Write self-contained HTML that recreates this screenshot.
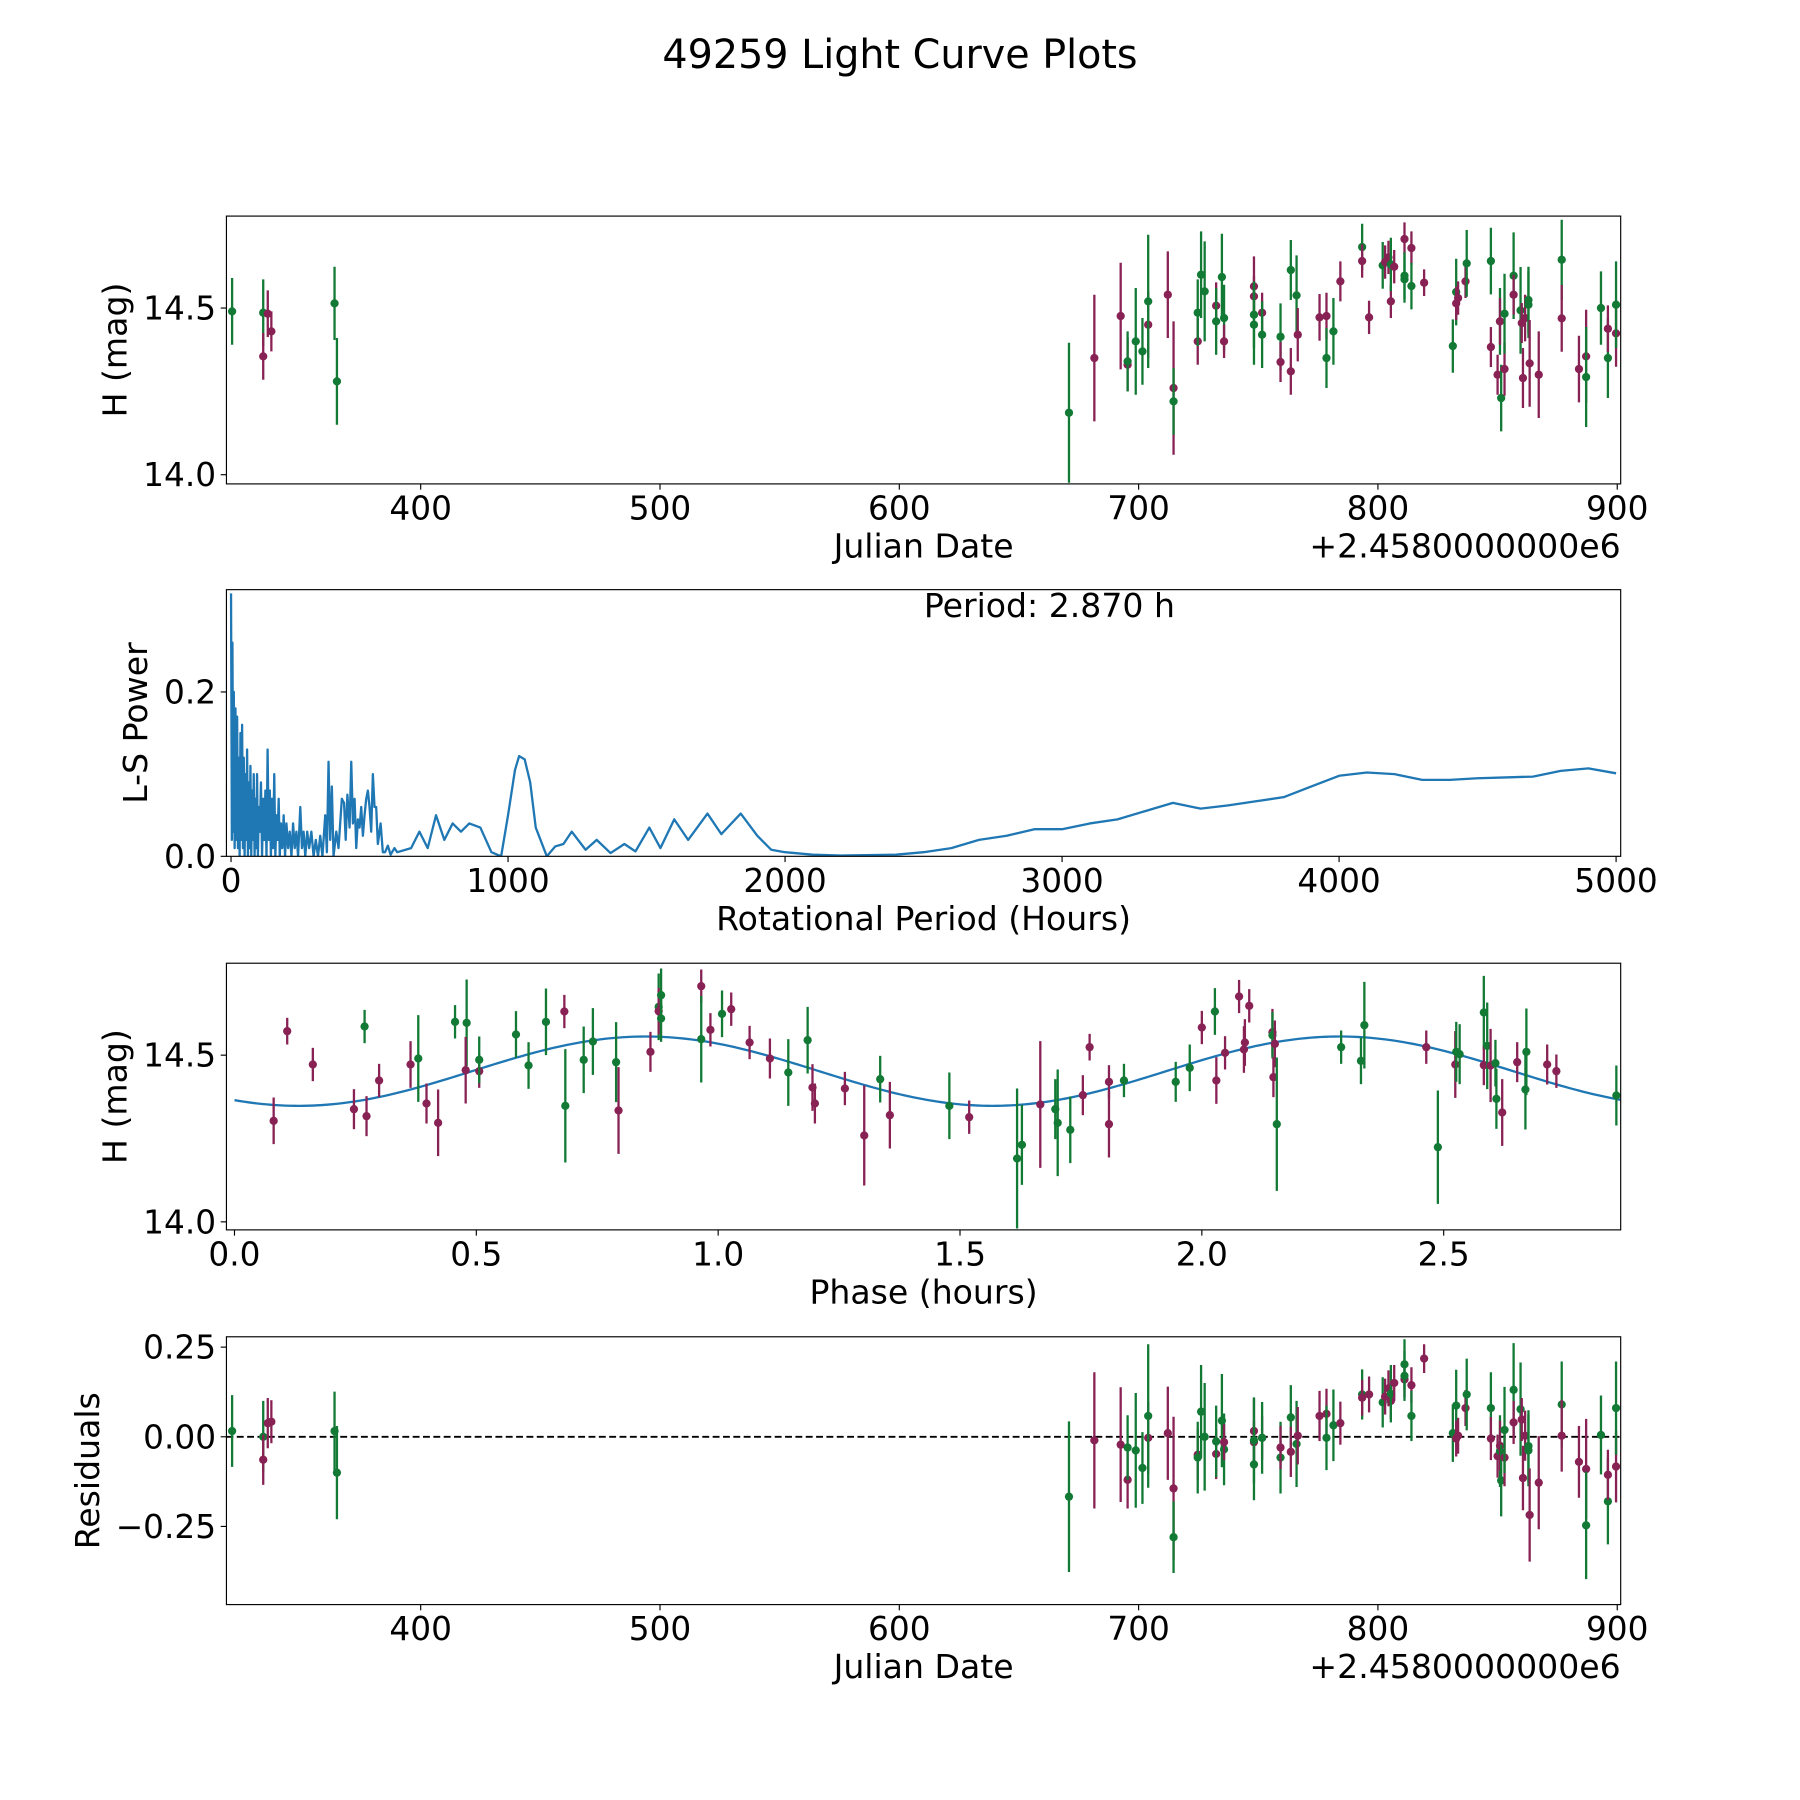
<!DOCTYPE html>
<html><head><meta charset="utf-8"><style>
html,body{margin:0;padding:0;background:#fff;}
svg{display:block;font-family:"DejaVu Sans","Liberation Sans",sans-serif;}
</style></head><body>
<svg id="fig" xmlns="http://www.w3.org/2000/svg" width="1800" height="1800" viewBox="0 0 1566 1566">
<rect width="1566" height="1566" fill="#fff"/>
<text x="783" y="59" font-size="34.5" text-anchor="middle">49259 Light Curve Plots</text>
</svg>
<script>
// ---- Panel 1 / 4 data (Julian Date offset, magnitude, error, band, residual) ----
const jdVals = [321.2,334.2,334.2,336.1,337.6,364,365,670.9,681.5,692.5,695.4,695.4,698.8,701.6,704,704,712.2,714.6,714.6,724.7,724.7,726.1,727.6,732.4,732.4,734.8,735.7,735.7,748.2,748.2,748.2,748.2,751.6,751.6,759.3,759.3,763.6,763.6,766,766.5,775.6,778.5,778.5,781.4,784.3,793.4,793.4,796.3,802,803,804.4,805.4,805.4,806.8,811.1,811.1,811.1,814,814,819.3,831.3,832.7,832.7,833.5,836.6,837.1,847.2,847.2,850,851,851,851.5,852.9,852.9,856.7,856.7,859.6,860.1,860.6,861.5,862.9,862.9,863.4,867.2,876.8,876.8,884,887,887,893.2,896.1,896.1,899.5,899.5];
const magVals = [14.49,14.486,14.355,14.483,14.43,14.514,14.28,14.186,14.35,14.476,14.33,14.34,14.40,14.37,14.45,14.52,14.54,14.26,14.22,14.40,14.486,14.6,14.55,14.507,14.46,14.593,14.47,14.40,14.565,14.535,14.48,14.45,14.486,14.42,14.414,14.338,14.614,14.31,14.538,14.42,14.472,14.476,14.35,14.43,14.58,14.683,14.641,14.472,14.628,14.638,14.652,14.52,14.631,14.624,14.707,14.597,14.586,14.68,14.566,14.576,14.386,14.548,14.514,14.53,14.58,14.634,14.641,14.383,14.3,14.46,14.46,14.23,14.317,14.483,14.597,14.54,14.493,14.455,14.29,14.47,14.524,14.51,14.334,14.3,14.645,14.469,14.317,14.355,14.293,14.5,14.35,14.438,14.424,14.51];
const errVals = [.10,.1,.07,.07,.06,.11,.13,.21,.19,.16,.08,.09,.16,.1,.1,.2,.13,.2,.1,.07,.1,.13,.15,.07,.1,.13,.1,.05,.09,.06,.1,.12,.06,.1,.1,.06,.09,.07,.12,.08,.07,.07,.09,.1,.06,.07,.05,.05,.07,.05,.05,.05,.08,.05,.05,.07,.07,.05,.07,.04,.08,.1,.05,.05,.05,.1,.1,.06,.06,.1,.07,.1,.08,.12,.13,.06,.13,.06,.09,.07,.1,.1,.13,.13,.12,.1,.1,.14,.15,.11,.12,.07,.1,.13];
const bandVals = ['g','g','m','m','m','g','g','g','m','m','m','g','g','g','m','g','m','m','g','m','g','g','g','m','g','g','g','m','m','m','g','g','m','g','g','m','g','m','g','m','m','m','g','g','m','g','m','m','g','m','m','m','g','m','m','g','g','m','g','m','g','g','m','m','m','g','g','m','m','g','m','g','m','g','g','m','g','m','m','m','g','g','m','m','g','m','m','m','g','g','g','m','m','g'];
const residVals = [.016,.0,-.064,.038,.042,.016,-.10,-.167,-.01,-.022,-.12,-.03,-.038,-.087,-.003,.058,.01,-.144,-.28,-.05,-.058,.07,.0,-.048,-.013,.045,-.035,-.015,.016,-.015,-.077,-.01,-.003,-.003,-.058,-.03,.054,-.042,-.02,.003,.058,.064,-.003,.032,.038,.118,.109,.118,.096,.112,.135,.10,.12,.15,.16,.202,.17,.144,.058,.218,.01,.087,-.005,.003,.08,.118,.08,-.005,-.054,-.04,-.025,-.122,-.058,.019,.131,.04,.077,.048,-.115,.003,-.026,-.038,-.218,-.128,.09,.003,-.07,-.09,-.247,.005,-.18,-.106,-.083,.08];
// ---- Panel 3 data (phase folded) ----
const phaseVals = [0.109,0.081,0.162,0.269,0.247,0.273,0.299,0.364,0.38,0.397,0.421,0.456,0.48,0.478,0.506,0.506,0.582,0.608,0.644,0.682,0.684,0.722,0.741,0.789,0.794,0.86,0.877,0.877,0.882,0.882,0.965,0.965,0.984,1.008,1.027,1.065,1.107,1.145,1.185,1.195,1.2,1.262,1.335,1.302,1.355,1.478,1.519,1.618,1.628,1.666,1.697,1.702,1.728,1.754,1.768,1.808,1.808,1.839,1.946,1.975,2.0,2.027,2.03,2.048,2.077,2.087,2.089,2.098,2.146,2.146,2.151,2.148,2.155,2.288,2.329,2.336,2.464,2.488,2.524,2.526,2.533,2.583,2.583,2.59,2.597,2.607,2.609,2.621,2.652,2.671,2.669,2.714,2.733,2.857];
const phaseMag = [14.572,14.303,14.472,14.586,14.338,14.317,14.424,14.472,14.49,14.355,14.297,14.6,14.597,14.455,14.452,14.486,14.562,14.469,14.6,14.631,14.348,14.486,14.541,14.479,14.334,14.51,14.645,14.632,14.68,14.61,14.707,14.548,14.576,14.624,14.638,14.538,14.49,14.448,14.545,14.403,14.355,14.4,14.428,14.259,14.32,14.348,14.314,14.19,14.231,14.352,14.338,14.297,14.276,14.38,14.524,14.293,14.42,14.424,14.42,14.462,14.583,14.631,14.424,14.507,14.676,14.517,14.538,14.648,14.569,14.56,14.534,14.434,14.293,14.524,14.483,14.59,14.524,14.224,14.472,14.51,14.503,14.628,14.47,14.528,14.469,14.476,14.369,14.328,14.479,14.51,14.397,14.472,14.452,14.379];
const phaseErr = [.04,.07,.05,.05,.06,.06,.05,.07,.13,.06,.1,.05,.13,.1,.05,.07,.07,.07,.1,.05,.17,.1,.1,.12,.13,.06,.1,.07,.08,.07,.05,.13,.05,.07,.05,.05,.06,.1,.1,.07,.06,.05,.07,.15,.1,.1,.05,.21,.12,.19,.09,.16,.1,.06,.04,.1,.05,.05,.06,.07,.05,.07,.07,.05,.05,.07,.07,.05,.07,.07,.07,.06,.2,.05,.07,.13,.05,.17,.1,.09,.09,.11,.06,.13,.11,.07,.09,.1,.06,.13,.12,.06,.05,.09];
const phaseBand = ['m','m','m','g','m','m','m','m','g','m','m','g','g','m','m','g','g','g','g','m','g','g','g','g','m','m','g','m','g','g','m','g','m','g','m','m','m','g','g','m','m','m','g','m','m','g','m','g','g','m','g','g','g','m','m','m','m','g','g','g','m','g','m','m','m','m','m','m','m','g','m','m','g','g','g','g','m','g','m','g','g','g','m','g','m','g','g','m','m','g','g','m','m','g'];
// model fit parameters: mean, amplitude, peak phase, half-period
const fitMean = [14.452];
const fitAmp = [0.104];
const fitPeak = [0.85];
const fitHalfPeriod = [1.435];
// ---- Panel 2 periodogram ----
const lsPeriod = [0,3,5,8,10,13,16,19,22,25,28,31,34,37,40,43,46,49,52,55,58,61,64,67,70,73,76,79,82,85,88,91,94,97,100,104,108,112,116,120,124,128,132,136,140,144,148,152,156,160,164,168,172,176,180,185,190,195,200,206,212,218,224,230,236,242,250,256,262,268,275,282,290,298,306,314,322,330,340,346,352,358,364,370,380,388,400,408,414,420,428,434,440,446,452,458,464,470,476,482,488,494,500,506,512,518,524,530,540,548,556,566,576,590,600,650,680,710,740,770,800,830,860,900,940,975,1000,1025,1040,1060,1080,1100,1140,1170,1200,1230,1280,1320,1370,1420,1460,1510,1550,1600,1650,1720,1770,1840,1900,1950,2000,2100,2200,2400,2500,2600,2700,2800,2900,3000,3100,3200,3300,3400,3500,3600,3700,3800,3900,4000,4100,4200,4300,4400,4500,4600,4700,4800,4900,5000];
const lsPower = [0.32,0.02,0.26,0.03,0.20,0.01,0.18,0.02,0.17,0.01,0.12,0.0,0.15,0.02,0.16,0.01,0.12,0.0,0.1,0.02,0.13,0.0,0.09,0.01,0.11,0.0,0.08,0.02,0.1,0.0,0.07,0.01,0.1,0.0,0.06,0.03,0.09,0.0,0.07,0.02,0.08,0.0,0.13,0.02,0.08,0.0,0.07,0.01,0.1,0.0,0.05,0.02,0.07,0.0,0.04,0.01,0.05,0.0,0.04,0.01,0.03,0.0,0.04,0.01,0.03,0.0,0.06,0.01,0.03,0.0,0.03,0.01,0.03,0.0,0.02,0.0,0.025,0.0,0.05,0.005,0.115,0.02,0.085,0.0,0.03,0.01,0.07,0.065,0.02,0.075,0.035,0.115,0.04,0.07,0.01,0.045,0.035,0.06,0.025,0.05,0.07,0.08,0.06,0.03,0.10,0.06,0.06,0.015,0.04,0.005,0.005,0.013,0.002,0.01,0.005,0.01,0.03,0.01,0.05,0.02,0.04,0.03,0.04,0.035,0.005,0.0,0.05,0.105,0.122,0.118,0.09,0.035,0.0,0.012,0.015,0.03,0.008,0.02,0.004,0.015,0.006,0.035,0.01,0.045,0.02,0.052,0.027,0.052,0.025,0.008,0.005,0.002,0.001,0.002,0.005,0.01,0.02,0.025,0.033,0.033,0.04,0.045,0.055,0.065,0.058,0.062,0.067,0.072,0.085,0.098,0.102,0.1,0.093,0.093,0.095,0.096,0.097,0.104,0.107,0.101];

const NS='http://www.w3.org/2000/svg';
const fig=document.getElementById('fig');
const COL={g:'#127a35',m:'#882255'};
function mk(tag,attrs,parent){const e=document.createElementNS(NS,tag);for(const k in attrs)e.setAttribute(k,attrs[k]);(parent||fig).appendChild(e);return e;}
function txt(s,attrs,parent){const e=mk('text',attrs,parent);e.textContent=s;return e;}
function lin(d0,d1,r0,r1){return v=>r0+(v-d0)*(r1-r0)/(d1-d0);}

const L=197,R=1410;
const TICK_FS=28.5, LAB_FS=28.8;
function axes(name,top,bot,xs,ys,xt,yt,xl,yl,ylx){
  const g=mk('g',{});
  
  
  xt.forEach(t=>{const x=xs(t[0]);mk('line',{x1:x,x2:x,y1:bot,y2:bot+5,stroke:'#000','stroke-width':1},g);
    const e=txt(t[1],{x:x,y:bot+31,'font-size':TICK_FS,'text-anchor':'middle'},g);
    
    });
  yt.forEach(t=>{const y=ys(t[0]);mk('line',{x1:L-5,x2:L,y1:y,y2:y,stroke:'#000','stroke-width':1},g);
    const e=txt(t[1],{x:L-9,y:y+10,'font-size':TICK_FS,'text-anchor':'end'},g);
    
    });
  const xe=txt(xl,{x:(L+R)/2,y:bot+64,'font-size':LAB_FS,'text-anchor':'middle'},g);
  
  
  const cy=(top+bot)/2;
  const ye=txt(yl,{x:ylx,y:cy,'font-size':LAB_FS,'text-anchor':'middle',transform:`rotate(-90 ${ylx} ${cy})`},g);
  
  
  return g;
}
function frame(top,bot){const r=mk('rect',{x:L,y:top,width:R-L,height:bot-top,fill:'none',stroke:'#000','stroke-width':1});
  
  }
function points(xv,yv,ev,bv,xs,ys,top,bot,name){
  const g=mk('g',{});
  
  
  const cp='cp'+name;
  const c=mk('clipPath',{id:cp},g);mk('rect',{x:L,y:top,width:R-L,height:bot-top},c);
  const inner=mk('g',{'clip-path':`url(#${cp})`},g);
  xv.forEach((x,i)=>{const px=xs(x),col=COL[bv[i]];
    const eb=mk('line',{x1:px,x2:px,y1:ys(yv[i]-ev[i]),y2:ys(yv[i]+ev[i]),stroke:col,'stroke-width':2},inner);
    
    
    const p=mk('circle',{cx:px,cy:ys(yv[i]),r:3.6,fill:col},inner);
    
    });
}
function offsetText(bot){const e=txt('+2.4580000000e6',{x:R,y:bot+64,'font-size':LAB_FS,'text-anchor':'end'});
  
  }

// Panel 1
{const top=188,bot=421;const xs=lin(400,900,366,1407),ys=lin(14.0,14.5,413,268);
 points(jdVals,magVals,errVals,bandVals,xs,ys,top,bot,'lightcurve-points');
 frame(top,bot);
 axes('lightcurve-axes',top,bot,xs,ys,[[400,'400'],[500,'500'],[600,'600'],[700,'700'],[800,'800'],[900,'900']],[[14.0,'14.0'],[14.5,'14.5']],'Julian Date','H (mag)',110);
 offsetText(bot);}
// Panel 2
{const top=513,bot=745;const xs=lin(0,5000,201,1406),ys=lin(0,0.2,745,602);
 const cp=mk('clipPath',{id:'cpls'});mk('rect',{x:L,y:top,width:R-L,height:bot-top},cp);
 let d='';lsPeriod.forEach((p,i)=>{d+=(i?'L':'M')+xs(p).toFixed(2)+','+ys(lsPower[i]).toFixed(2);});
 const pl=mk('path',{d:d,fill:'none',stroke:'#1f77b4','stroke-width':2,'stroke-linejoin':'round','clip-path':'url(#cpls)'});
 
 
 frame(top,bot);
 axes('periodogram-axes',top,bot,xs,ys,[[0,'0'],[1000,'1000'],[2000,'2000'],[3000,'3000'],[4000,'4000'],[5000,'5000']],[[0,'0.0'],[0.2,'0.2']],'Rotational Period (Hours)','L-S Power',128);
 const pt=txt('Period: 2.870 h',{x:913,y:537,'font-size':LAB_FS,'text-anchor':'middle'});
 
 }
// Panel 3
{const top=838,bot=1070;const xs=lin(0,2.5,204,1256),ys=lin(14.0,14.5,1063,918);
 const cp=mk('clipPath',{id:'cpfit'});mk('rect',{x:L,y:top,width:R-L,height:bot-top},cp);
 let d='';for(let i=0;i<=300;i++){const ph=2.866*i/300;const m=fitMean[0]+fitAmp[0]*Math.cos(2*Math.PI*(ph-fitPeak[0])/fitHalfPeriod[0]);d+=(i?'L':'M')+xs(ph).toFixed(2)+','+ys(m).toFixed(2);}
 const fl=mk('path',{d:d,fill:'none',stroke:'#1f77b4','stroke-width':2,'clip-path':'url(#cpfit)'});
 
 
 points(phaseVals,phaseMag,phaseErr,phaseBand,xs,ys,top,bot,'phase-points');
 frame(top,bot);
 axes('phase-axes',top,bot,xs,ys,[[0,'0.0'],[0.5,'0.5'],[1.0,'1.0'],[1.5,'1.5'],[2.0,'2.0'],[2.5,'2.5']],[[14.0,'14.0'],[14.5,'14.5']],'Phase (hours)','H (mag)',110);}
// Panel 4
{const top=1163,bot=1396;const xs=lin(400,900,366,1407),ys=lin(0,0.25,1250,1172);
 const z=mk('line',{x1:L,x2:R,y1:ys(0),y2:ys(0),stroke:'#000','stroke-width':1.6,'stroke-dasharray':'6,3'});
 
 
 points(jdVals,residVals,errVals,bandVals,xs,ys,top,bot,'residual-points');
 frame(top,bot);
 axes('residual-axes',top,bot,xs,ys,[[400,'400'],[500,'500'],[600,'600'],[700,'700'],[800,'800'],[900,'900']],[[0.25,'0.25'],[0,'0.00'],[-0.25,'\u22120.25']],'Julian Date','Residuals',86);
 offsetText(bot);}
</script>
</body></html>
